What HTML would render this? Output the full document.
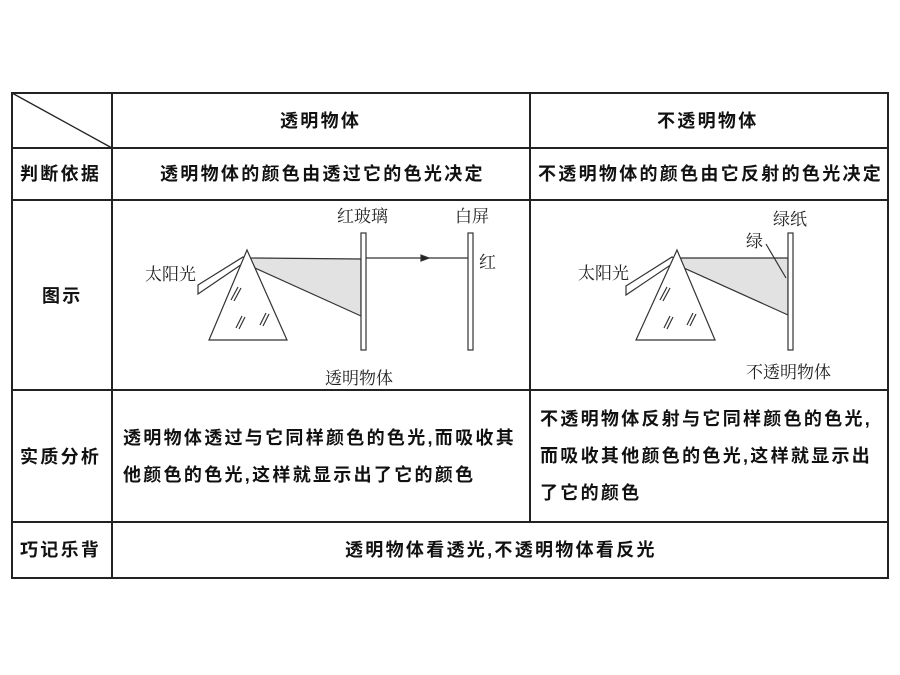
<!DOCTYPE html>
<html><head><meta charset="utf-8"><style>
body{margin:0;width:900px;height:675px;background:#fff;position:relative;overflow:hidden;font-family:"Liberation Sans","Noto Sans CJK SC",sans-serif;color:#111}
.t{position:absolute;font-size:18px;font-weight:bold;letter-spacing:2.3px;white-space:nowrap;line-height:1}
.s{position:absolute;font-size:17px;white-space:nowrap;line-height:1;font-family:"Noto Serif CJK SC","Noto Sans CJK SC",serif;color:#222}
</style></head><body>
<svg width="900" height="675" style="position:absolute;left:0;top:0">
<g stroke="#222" stroke-width="2" fill="none">
<rect x="12" y="93" width="876" height="485"/>
<line x1="12" y1="148" x2="888" y2="148"/>
<line x1="12" y1="200" x2="888" y2="200"/>
<line x1="12" y1="390" x2="888" y2="390"/>
<line x1="12" y1="522" x2="888" y2="522"/>
<line x1="112" y1="93" x2="112" y2="578"/>
<line x1="530" y1="93" x2="530" y2="522"/>
<line x1="12" y1="93" x2="112" y2="148" stroke-width="1.3"/>
</g>
<g stroke="#333" stroke-width="1.2">
<polygon points="250,258 361,259 361,316 255,268" fill="#e2e2e2"/>
<polygon points="198,285 243,257 248,260 198,294" fill="#fff"/>
<polygon points="247,250 209,340 287,340" fill="#fff"/>
<line x1="231" y1="300" x2="238" y2="287"/><line x1="234" y1="301" x2="241" y2="288"/>
<line x1="236" y1="328" x2="242" y2="316"/><line x1="239" y1="329" x2="245" y2="317"/>
<line x1="260" y1="325" x2="266" y2="313"/><line x1="263" y1="326" x2="269" y2="314"/>
<rect x="361" y="233" width="5" height="117" fill="#fff"/>
<line x1="366" y1="258" x2="468" y2="258"/>
<polygon points="421,255 429,258 421,261" fill="#222"/>
<rect x="468" y="233" width="5" height="117" fill="#fff"/>
<polygon points="680,258 788,258 788,315 684,268" fill="#e2e2e2"/>
<polygon points="626,286 672,257 678,260 626,295" fill="#fff"/>
<polygon points="677,250 636,340 715,340" fill="#fff"/>
<line x1="660" y1="300" x2="667" y2="287"/><line x1="663" y1="301" x2="670" y2="288"/>
<line x1="664" y1="328" x2="670" y2="316"/><line x1="667" y1="329" x2="673" y2="317"/>
<line x1="687" y1="325" x2="693" y2="313"/><line x1="690" y1="326" x2="696" y2="314"/>
<rect x="788" y="233" width="5" height="117" fill="#fff"/>
<line x1="766" y1="244" x2="786" y2="278"/>
</g>
</svg>
<div class="t" style="left:280px;top:112px">透明物体</div>
<div class="t" style="left:657px;top:112px">不透明物体</div>
<div class="t" style="left:20px;top:165px">判断依据</div>
<div class="t" style="left:160px;top:165px">透明物体的颜色由透过它的色光决定</div>
<div class="t" style="left:538px;top:165px">不透明物体的颜色由它反射的色光决定</div>
<div class="t" style="left:42px;top:287px">图示</div>
<div class="t" style="left:20px;top:448px">实质分析</div>
<div class="t" style="left:123px;top:429px">透明物体透过与它同样颜色的色光,而吸收其</div>
<div class="t" style="left:123px;top:466px">他颜色的色光,这样就显示出了它的颜色</div>
<div class="t" style="left:540px;top:410px">不透明物体反射与它同样颜色的色光,</div>
<div class="t" style="left:540px;top:447px">而吸收其他颜色的色光,这样就显示出</div>
<div class="t" style="left:540px;top:484px">了它的颜色</div>
<div class="t" style="left:20px;top:541px">巧记乐背</div>
<div class="t" style="left:345px;top:541px">透明物体看透光,不透明物体看反光</div>
<div class="s" style="left:337px;top:206px">红玻璃</div>
<div class="s" style="left:455px;top:206px">白屏</div>
<div class="s" style="left:479px;top:252px">红</div>
<div class="s" style="left:145px;top:264px">太阳光</div>
<div class="s" style="left:325px;top:368px">透明物体</div>
<div class="s" style="left:773px;top:209px">绿纸</div>
<div class="s" style="left:746px;top:231px">绿</div>
<div class="s" style="left:578px;top:263px">太阳光</div>
<div class="s" style="left:746px;top:362px">不透明物体</div>
</body></html>
